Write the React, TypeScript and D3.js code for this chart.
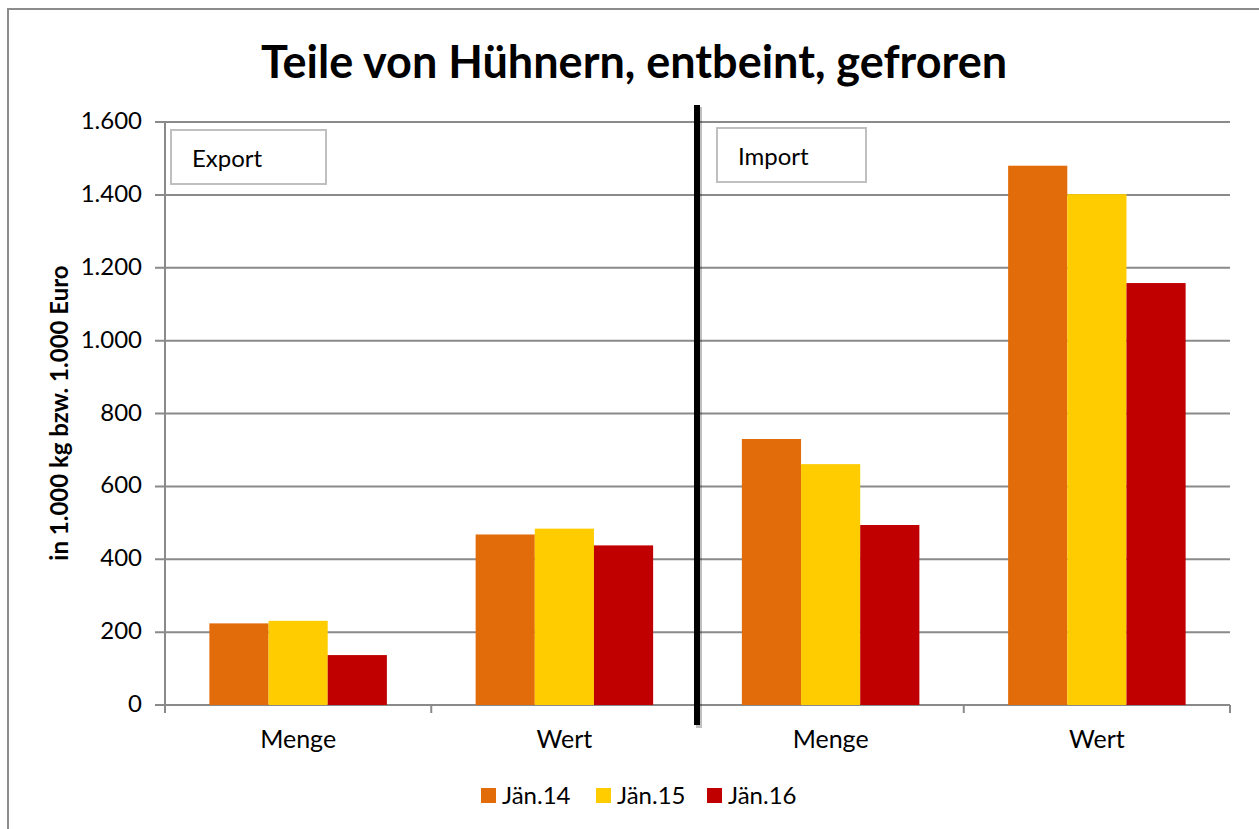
import React from 'react';
import * as d3 from 'd3';

const title = 'Teile von Hühnern, entbeint, gefroren';
const yAxisTitle = 'in 1.000 kg bzw. 1.000 Euro';
const groups = ['Export', 'Import'];
const categories = ['Menge', 'Wert'];
const seriesNames = ['Jän.14', 'Jän.15', 'Jän.16'];
const seriesColors = ['#E36C0A', '#FFCC00', '#C00000'];
// values per category, order: Export Menge, Export Wert, Import Menge, Import Wert
const jan14 = [224, 468, 730, 1480];
const jan15 = [231, 484, 661, 1402];
const jan16 = [137, 438, 494, 1158];
const yTicks = [0, 200, 400, 600, 800, 1000, 1200, 1400, 1600];

const W = 1259;
const H = 829;
const FONT = 'Lato, "Open Sans", sans-serif';

export default function App() {
  const seriesValues = [jan14, jan15, jan16];
  const keys = groups.flatMap((g) => categories.map((c) => `${g}|${c}`));

  const plot = { left: 165, right: 1230, top: 122, bottom: 705 };

  const x = d3.scaleBand<string>().domain(keys).range([plot.left, plot.right]);
  const xInner = d3
    .scaleBand<string>()
    .domain(seriesNames)
    .range([0, x.bandwidth()])
    .paddingOuter(0.75);
  const y = d3.scaleLinear().domain([0, 1600]).range([plot.bottom, plot.top]);
  const fmt = (v: number) => d3.format(',')(v).replace(/,/g, '.');

  const tickXs = keys.map((k) => x(k) as number).concat([plot.right]);
  const sepX = (x(keys[2]) as number) - 0.5;

  return (
    <svg
      width={W}
      height={H}
      style={{ position: 'absolute', left: 0, top: 0, background: '#fff' }}
      fontFamily={FONT}
    >
      <rect x={8} y={9} width={W + 10} height={H + 10} fill="#fff" stroke="#8c8c8c" strokeWidth={2} />

      <text x={634} y={78} textAnchor="middle" fontSize={45} fontWeight={700} fill="#000">
        {title}
      </text>

      {/* gridlines */}
      {yTicks.map((t) => (
        <line
          key={t}
          x1={plot.left - 10}
          x2={plot.right}
          y1={y(t)}
          y2={y(t)}
          stroke="#8a8a8a"
          strokeWidth={2}
        />
      ))}
      <line x1={plot.left} x2={plot.left} y1={plot.top} y2={plot.bottom + 8} stroke="#8a8a8a" strokeWidth={2} />
      {tickXs.map((tx, i) => (
        <line key={i} x1={tx} x2={tx} y1={plot.bottom} y2={plot.bottom + 8} stroke="#8a8a8a" strokeWidth={2} />
      ))}

      {yTicks.map((t) => (
        <text key={t} x={142} y={y(t) + 7} textAnchor="end" fontSize={24} fill="#000">
          {fmt(t)}
        </text>
      ))}

      <text
        transform={`translate(68, 413) rotate(-90)`}
        textAnchor="middle"
        fontSize={24}
        fontWeight={700}
        fill="#000"
      >
        {yAxisTitle}
      </text>

      {/* bars */}
      {keys.map((k, ci) =>
        seriesNames.map((s, si) => (
          <rect
            key={`${k}-${s}`}
            x={(x(k) as number) + (xInner(s) as number)}
            y={y(seriesValues[si][ci])}
            width={xInner.bandwidth()}
            height={plot.bottom - y(seriesValues[si][ci])}
            fill={seriesColors[si]}
          />
        ))
      )}

      {keys.map((k) => (
        <text
          key={k}
          x={(x(k) as number) + x.bandwidth() / 2}
          y={748}
          textAnchor="middle"
          fontSize={25}
          fill="#000"
        >
          {k.split('|')[1]}
        </text>
      ))}

      {/* separator between export and import */}
      <line x1={sepX + 2} x2={sepX + 2} y1={107} y2={728} stroke="#000" strokeOpacity={0.25} strokeWidth={6} />
      <line x1={sepX} x2={sepX} y1={105} y2={725} stroke="#000" strokeWidth={6} />

      {/* group boxes */}
      {groups.map((g, gi) => {
        const bx = gi === 0 ? 171 : 717;
        const by = gi === 0 ? 130 : 128;
        return (
          <g key={g}>
            <rect x={bx} y={by} width={gi === 0 ? 155 : 149} height={54} fill="#fff" stroke="#bfbfbf" strokeWidth={2} />
            <text x={bx + 21} y={by + 37} fontSize={24} fill="#000">
              {g}
            </text>
          </g>
        );
      })}

      {/* legend */}
      {seriesNames.map((s, i) => {
        const lx = [481, 596, 707][i];
        return (
          <g key={s}>
            <rect x={lx} y={788} width={15} height={15} fill={seriesColors[i]} />
            <text x={lx + 21} y={804} fontSize={24} fill="#000">
              {s}
            </text>
          </g>
        );
      })}
    </svg>
  );
}
